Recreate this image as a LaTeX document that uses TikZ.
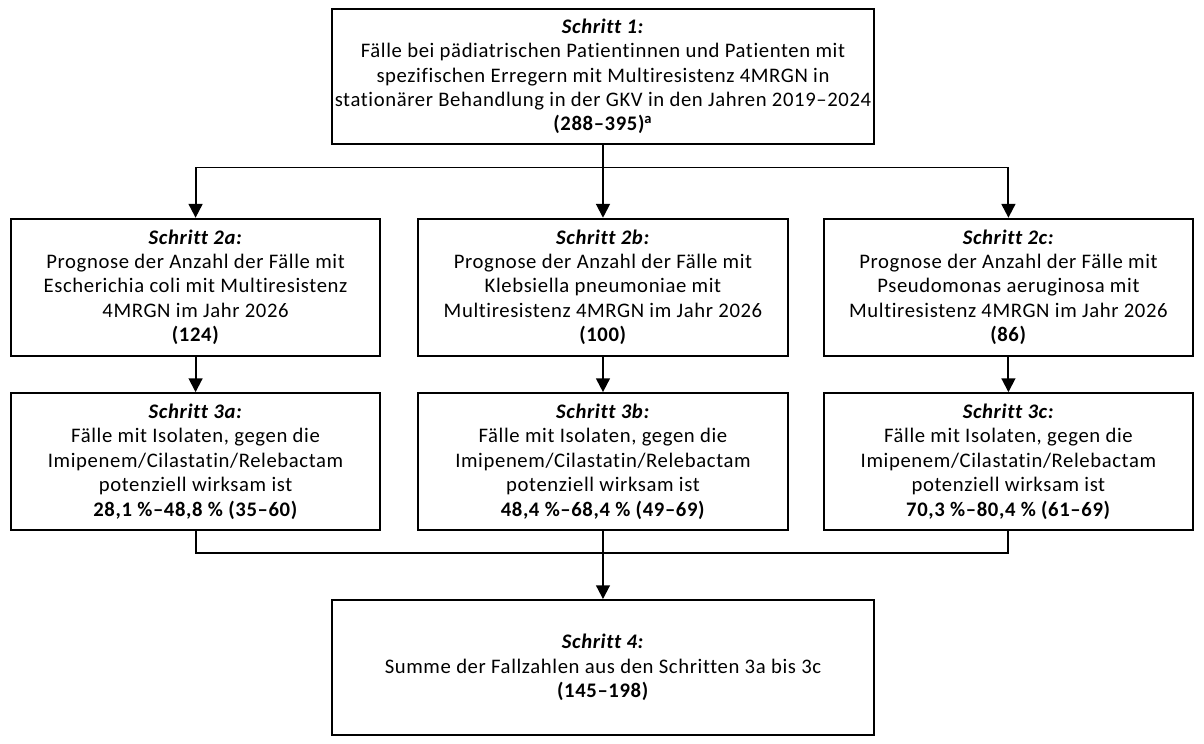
\documentclass[tikz,border=0pt]{standalone}
\usepackage{fontspec}
\setmainfont{Carlito}[Ligatures=NoCommon, LetterSpace=3]
\usetikzlibrary{arrows.meta}
\begin{document}
\begin{tikzpicture}[x=0.5pt,y=-0.5pt,
  box/.style={draw=black, line width=1pt, align=center, inner sep=0pt,
    font=\fontsize{10.5pt}{12.4pt}\selectfont},
  top/.style={box, minimum width=275pt, minimum height=68.5pt},
  mid/.style={box, minimum width=187.5pt, minimum height=69.5pt},
  conn/.style={line width=1pt},
  thinconn/.style={line width=0.6pt},
  arr/.style={line width=1pt, -{Triangle[length=7pt,width=7pt]}}]
\useasboundingbox (0,0) rectangle (1222,755);

\node[top] (b1) at (612,77.5) {\textbf{\textit{Schritt 1:}}\\
F\"alle bei p\"adiatrischen Patientinnen und Patienten mit\\
spezifischen Erregern mit Multiresistenz 4MRGN in\\
station\"arer Behandlung in der GKV in den Jahren 2019–2024\\
\textbf{(288–395)\textsuperscript{a}}};

\node[mid] (b2a) at (198.5,291.5) {\textbf{\textit{Schritt 2a:}}\\
Prognose der Anzahl der F\"alle mit\\
Escherichia coli mit Multiresistenz\\
4MRGN im Jahr 2026\\
\textbf{(124)}};
\node[mid] (b2b) at (612,291.5) {\textbf{\textit{Schritt 2b:}}\\
Prognose der Anzahl der F\"alle mit\\
Klebsiella pneumoniae mit\\
Multiresistenz 4MRGN im Jahr 2026\\
\textbf{(100)}};
\node[mid] (b2c) at (1023.5,291.5) {\textbf{\textit{Schritt 2c:}}\\
Prognose der Anzahl der F\"alle mit\\
Pseudomonas aeruginosa mit\\
Multiresistenz 4MRGN im Jahr 2026\\
\textbf{(86)}};

\node[mid] (b3a) at (198.5,468.5) {\textbf{\textit{Schritt 3a:}}\\
F\"alle mit Isolaten, gegen die\\
Imipenem/Cilastatin/Relebactam\\
potenziell wirksam ist\\
\textbf{28,1 \%–48,8 \% (35–60)}};
\node[mid] (b3b) at (612,468.5) {\textbf{\textit{Schritt 3b:}}\\
F\"alle mit Isolaten, gegen die\\
Imipenem/Cilastatin/Relebactam\\
potenziell wirksam ist\\
\textbf{48,4 \%–68,4 \% (49–69)}};
\node[mid] (b3c) at (1023.5,468.5) {\textbf{\textit{Schritt 3c:}}\\
F\"alle mit Isolaten, gegen die\\
Imipenem/Cilastatin/Relebactam\\
potenziell wirksam ist\\
\textbf{70,3 \%–80,4 \% (61–69)}};

\node[top] (b4) at (612,677.5) {\textbf{\textit{Schritt 4:}}\\
Summe der Fallzahlen aus den Schritten 3a bis 3c\\
\textbf{(145–198)}};

\coordinate (j1) at (612,170);
\coordinate (j2) at (612,561);

\draw[conn] (b1.south) -- (j1);
\draw[arr] (j1) -| (b2a.north);
\draw[arr] (j1) -| (b2c.north);
\draw[arr] (j1) -- (b2b.north);

\draw[arr] (b2a.south) -- (b3a.north);
\draw[arr] (b2b.south) -- (b3b.north);
\draw[arr] (b2c.south) -- (b3c.north);

\draw[conn] (b3a.south) |- (j2) -| (b3c.south);
\draw[thinconn] (b3b.south) -- (j2);
\draw[arr] (j2) -- (b4.north);
\end{tikzpicture}
\end{document}
